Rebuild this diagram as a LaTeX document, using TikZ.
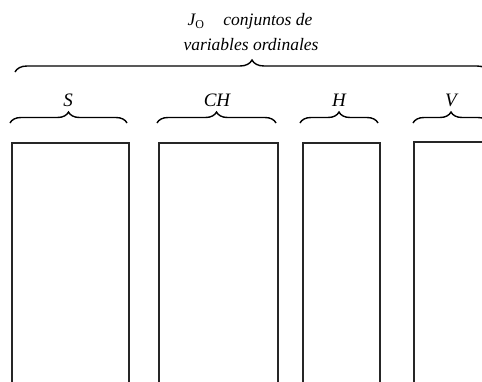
\documentclass[tikz,border=0pt]{standalone}
\usepackage{fontspec}
\setmainfont{Liberation Serif}
\usetikzlibrary{decorations.pathreplacing}
\begin{document}
\begin{tikzpicture}[x=1pt,y=-1pt,
  lbl/.style={font=\fontsize{17.5}{21}\selectfont\itshape, inner sep=0pt},
  setname/.style={lbl, font=\fontsize{19}{22}\selectfont\itshape},
  col/.style={draw=black!85, line width=1.6pt, fill=none, inner sep=0pt, anchor=north west},
  grp/.style={decorate, decoration={brace, amplitude=11pt}, line width=1.4pt}]
  \useasboundingbox (0,0) rectangle (482,381);
  \clip (0,0) rectangle (482,381);

  % columns, open below the frame
  \node[col, minimum width=117pt, minimum height=260pt] (bS)  at (11,142) {};
  \node[col, minimum width=119pt, minimum height=260pt] (bCH) at (158,142) {};
  \node[col, minimum width=77pt,  minimum height=260pt] (bH)  at (302,142) {};
  \node[col, minimum width=100pt, minimum height=260pt] (bV)  at (413,141) {};

  % braces over each column
  \coordinate (sL) at (10,123);  \coordinate (sR) at (127,123);
  \coordinate (cL) at (157,123); \coordinate (cR) at (276,123);
  \coordinate (hL) at (300,123); \coordinate (hR) at (378,123);
  \coordinate (vL) at (413,123); \coordinate (vR) at (489,123);
  \draw[grp] (sL) -- (sR);
  \draw[grp] (cL) -- (cR);
  \draw[grp] (hL) -- (hR);
  \draw[grp] (vL) -- (vR);

  % brace over all ordinal sets
  \coordinate (aL) at (15,72); \coordinate (aR) at (489,72);
  \draw[grp, decoration={amplitude=12pt}] (aL) -- (aR);

  % labels
  \node[setname, anchor=base] (tS)  at (68,106)  {S};
  \node[setname, anchor=base] (tCH) at (217,106) {CH};
  \node[setname, anchor=base] (tH)  at (339,106) {H};
  \node[setname, anchor=base] (tV)  at (451,106) {V};
  \node[lbl, anchor=base] (t1)  at (250,25)
    {J\raisebox{-3.5pt}{\fontsize{12}{12}\selectfont\upshape O}\hspace{1.1em}conjuntos de};
  \node[lbl, anchor=base] (t2)  at (251,50) {variables ordinales};
\end{tikzpicture}
\end{document}
